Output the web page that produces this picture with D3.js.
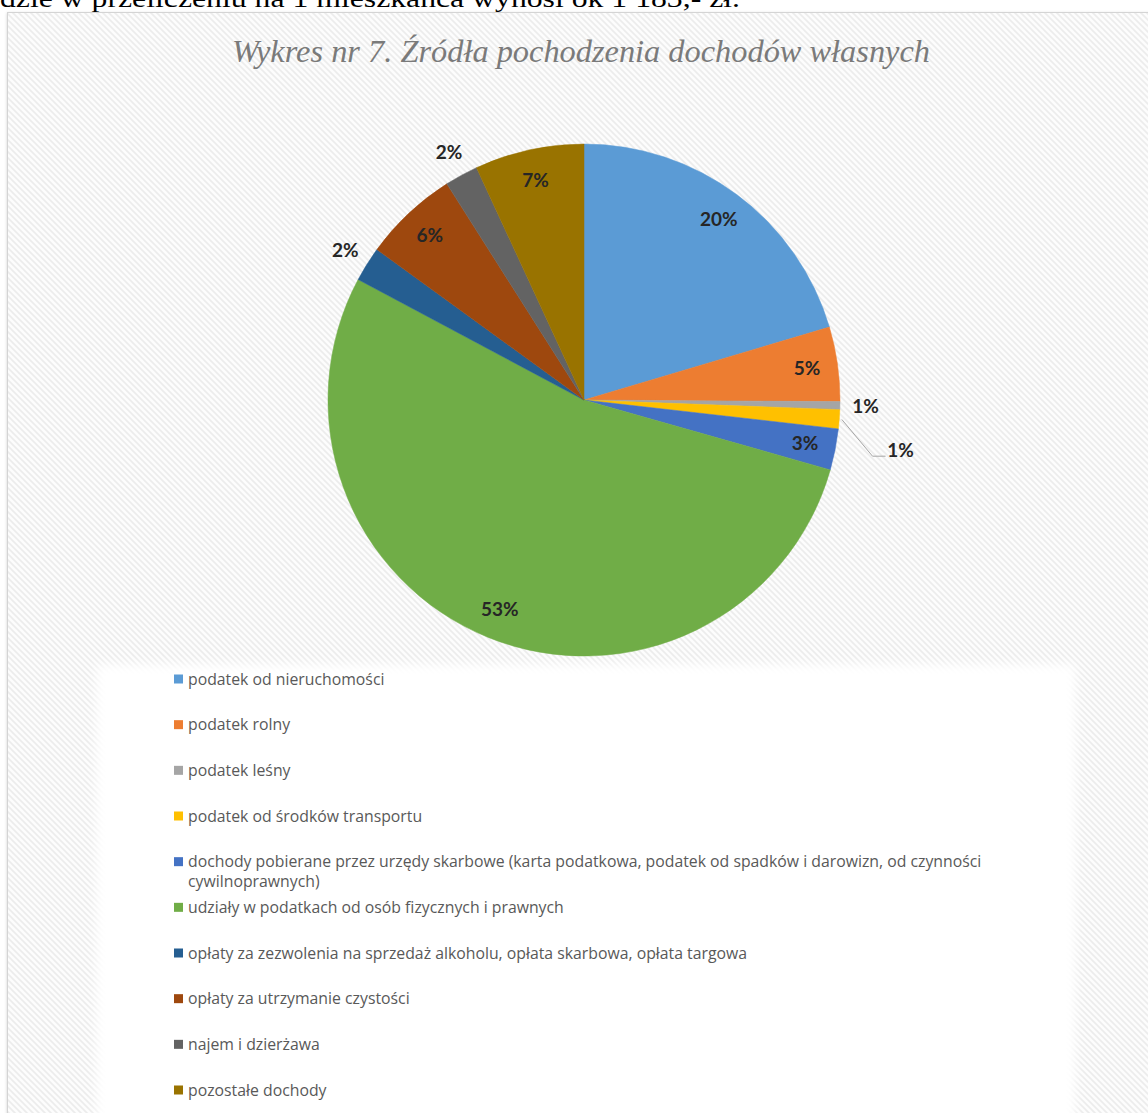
<!doctype html>
<meta charset="utf-8">
<title>Wykres nr 7</title>
<script src="https://cdn.jsdelivr.net/npm/d3@7"></script>
<style>
  body { margin: 0; background: #fff; }
  svg { display: block; }
</style>
<div id="chart"></div>
<script>
  // dane (udział w %)
  const categories = [
    'podatek od nieruchomości',
    'podatek rolny',
    'podatek leśny',
    'podatek od środków transportu',
    'dochody pobierane przez urzędy skarbowe (karta podatkowa, podatek od spadków i darowizn, od czynności|cywilnoprawnych)',
    'udziały w podatkach od osób fizycznych i prawnych',
    'opłaty za zezwolenia na sprzedaż alkoholu, opłata skarbowa, opłata targowa',
    'opłaty za utrzymanie czystości',
    'najem i dzierżawa',
    'pozostałe dochody'
  ]
  const values = [20.4, 4.7, 0.5, 1.2, 2.6, 53.4, 2.2, 6.0, 2.1, 6.9]
  const colors = ['#5b9bd5', '#ed7d31', '#a5a5a5', '#ffc000', '#4472c4',
    '#70ad47', '#255e91', '#9e480e', '#636363', '#997300']

  const title = 'Wykres nr 7. Źródła pochodzenia dochodów własnych'
  const topText = 'dzie w przeliczeniu na 1 mieszkańca wynosi ok 1 183,- zł.'

  const W = 1148, H = 1113
  const cx = 584, cy = 400, R = 256

  const svg = d3.select('#chart')
    .append('svg')
    .attr('width', W)
    .attr('height', H)

  const defs = svg.append('defs')

  // tło z ukośnym wzorem
  const pat = defs.append('pattern')
    .attr('id', 'hatch')
    .attr('width', 6)
    .attr('height', 6)
    .attr('patternUnits', 'userSpaceOnUse')
  pat.append('rect').attr('width', 6).attr('height', 6).attr('fill', '#fdfdfd')
  pat.append('path')
    .attr('d', 'M0,0 L6,6 M-3,3 L3,9 M3,-3 L9,3')
    .attr('stroke', '#ececec')
    .attr('stroke-width', 1.6)

  const blur = defs.append('filter').attr('id', 'soft')
    .attr('x', '-5%').attr('y', '-5%').attr('width', '110%').attr('height', '110%')
  blur.append('feGaussianBlur').attr('stdDeviation', 5)

  const shadow = defs.append('filter').attr('id', 'shadow')
    .attr('x', '-2%').attr('y', '-2%').attr('width', '104%').attr('height', '104%')
  shadow.append('feDropShadow')
    .attr('dx', 0).attr('dy', 1).attr('stdDeviation', 1.5)
    .attr('flood-color', '#000').attr('flood-opacity', 0.18)

  // tekst z dokumentu nad wykresem (ucięty u góry jak w oryginale)
  svg.append('text')
    .attr('x', 0)
    .attr('y', 7)
    .attr('font-family', 'Liberation Serif, Times New Roman, serif')
    .attr('font-size', 26)
    .attr('fill', '#000')
    .attr('textLength', 740)
    .attr('lengthAdjust', 'spacingAndGlyphs')
    .text(topText)

  // ramka obszaru wykresu
  svg.append('rect')
    .attr('x', 7.5)
    .attr('y', 12.5)
    .attr('width', W + 20)
    .attr('height', H + 20)
    .attr('fill', 'url(#hatch)')
    .attr('stroke', '#d4d4d4')
    .attr('filter', 'url(#shadow)')

  svg.append('text')
    .attr('x', 581)
    .attr('y', 62)
    .attr('text-anchor', 'middle')
    .attr('font-family', 'Liberation Serif, Times New Roman, serif')
    .attr('font-style', 'italic')
    .attr('font-size', 31)
    .attr('fill', '#7a7a7a')
    .attr('textLength', 698)
    .attr('lengthAdjust', 'spacingAndGlyphs')
    .text(title)

  // obszar legendy
  svg.append('rect')
    .attr('x', 97)
    .attr('y', 665)
    .attr('width', 978)
    .attr('height', 470)
    .attr('fill', '#fff')
    .attr('filter', 'url(#soft)')

  // wykres kołowy
  const pie = d3.pie().sort(null).value(d => d)
  const arcs = pie(values)
  const arc = d3.arc().innerRadius(0).outerRadius(R)

  const g = svg.append('g').attr('transform', `translate(${cx},${cy})`)

  g.selectAll('path.slice')
    .data(arcs)
    .enter()
    .append('path')
    .attr('class', 'slice')
    .attr('d', arc)
    .attr('fill', (d, i) => colors[i])
    .attr('stroke', (d, i) => colors[i])
    .attr('stroke-width', 0.5)

  // etykiety procentowe
  const inArc = d3.arc().innerRadius(R * 0.88).outerRadius(R * 0.88)
  const outArc = d3.arc().innerRadius(R * 1.1).outerRadius(R * 1.1)
  const farArc = d3.arc().innerRadius(R * 1.24).outerRadius(R * 1.24)
  const edgeArc = d3.arc().innerRadius(R * 1.01).outerRadius(R * 1.01)

  const labels = []
  let prevOut = null
  arcs.forEach((d, i) => {
    let p, leader = null
    if (d.value >= 2.5) {
      p = inArc.centroid(d)
    } else {
      p = outArc.centroid(d)
      if (prevOut && Math.hypot(p[0] - prevOut[0], p[1] - prevOut[1]) < 30) {
        const f = farArc.centroid(d)
        p = [f[0], prevOut[1] + 44]
        const e = edgeArc.centroid(d)
        leader = [e, [p[0] - 28, p[1] + 6], [p[0] - 15, p[1] + 6]]
      }
      prevOut = p
    }
    labels.push({ p, leader, text: Math.round(d.value) + '%' })
  })

  g.selectAll('path.leader')
    .data(labels.filter(d => d.leader))
    .enter()
    .append('path')
    .attr('class', 'leader')
    .attr('d', d => d3.line()(d.leader))
    .attr('fill', 'none')
    .attr('stroke', '#a6a6a6')
    .attr('stroke-width', 1)

  g.selectAll('text.lbl')
    .data(labels)
    .enter()
    .append('text')
    .attr('class', 'lbl')
    .attr('x', d => d.p[0])
    .attr('y', d => d.p[1])
    .attr('dy', '0.35em')
    .attr('text-anchor', 'middle')
    .attr('font-family', 'Lato, Open Sans, sans-serif')
    .attr('font-weight', 'bold')
    .attr('font-size', 19)
    .attr('fill', '#262626')
    .text(d => d.text)

  // legenda
  const rowY = d3.scalePoint()
    .domain(d3.range(categories.length))
    .range([679, 1090])

  const leg = svg.append('g')
  const items = leg.selectAll('g')
    .data(categories)
    .enter()
    .append('g')
    .attr('transform', (d, i) => `translate(0,${rowY(i)})`)

  items.append('rect')
    .attr('x', 174)
    .attr('y', -4.5)
    .attr('width', 9)
    .attr('height', 9)
    .attr('fill', (d, i) => colors[i])

  items.append('text')
    .attr('x', 188)
    .attr('font-family', 'Open Sans, sans-serif')
    .attr('font-size', 15.8)
    .attr('fill', '#595959')
    .selectAll('tspan')
    .data(d => d.split('|'))
    .enter()
    .append('tspan')
    .attr('x', 188)
    .attr('y', (d, j) => j * 20)
    .attr('dy', '0.35em')
    .text(d => d)
</script>
